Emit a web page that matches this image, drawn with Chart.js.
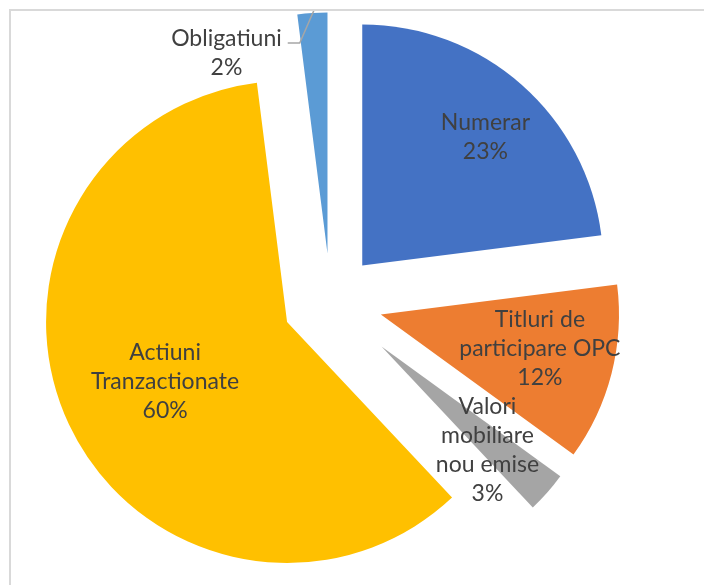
<!DOCTYPE html>
<html>
<head>
<meta charset="utf-8">
<script src="https://cdn.jsdelivr.net/npm/chart.js@4.4.0/dist/chart.umd.min.js"></script>
<style>
  html, body { margin: 0; padding: 0; background: #fff; overflow: hidden; }
  #frame { position: absolute; left: 9px; top: 9px; width: 720px; height: 600px;
           border-left: 2px solid #d9d9d9; border-top: 2px solid #d9d9d9; }
  #wrap { position: absolute; left: 11px; top: 11px; width: 693px; height: 574px; }
</style>
</head>
<body>
<div id="frame"></div>
<div id="wrap"><canvas id="pie-chart"></canvas></div>
<script>
// DATA
const categories = ["Numerar", "Titluri de participare OPC", "Valori mobiliare nou emise", "Actiuni Tranzactionate", "Obligatiuni"];
const values = [23, 12, 3, 60, 2];
// how the category names wrap inside the labels
const labelLines = [["Numerar"], ["Titluri de", "participare OPC"], ["Valori", "mobiliare", "nou emise"], ["Actiuni", "Tranzactionate"], ["Obligatiuni"]];
const sliceColors = ["#4472C4", "#ED7D31", "#A5A5A5", "#FFC000", "#5B9BD5"];

// per slice: how far it is pulled out (px) and how much it is shrunk
const explode = [48, 52, 68, 48, 48];
const shrink = [1, 0.988, 0.917, 1, 1];
// label placement: share of the slice radius from its tip, and turn (deg) off the slice middle
const labelRadial = [0.737, 0.683, 0.672, 0.564, 0.93];
const labelTurn = [2.5, -2.3, 3.1, -1.0, -23.2];
const FONT = "23px Lato";
const LINE_H = 29;

const sliceTip = (arc, i) => {
  const mid = (arc.startAngle + arc.endAngle) / 2;
  return {
    mid: mid,
    x: arc.x + Math.cos(mid) * explode[i],
    y: arc.y + Math.sin(mid) * explode[i],
    r: arc.outerRadius * shrink[i]
  };
};

// pull every slice out along its middle (plain translation, like Excel)
const explodePlugin = {
  id: "explode",
  beforeDatasetDraw(chart, args) {
    const ctx = chart.ctx;
    args.meta.data.forEach((arc, i) => {
      const tip = sliceTip(arc, i);
      ctx.save();
      ctx.translate(tip.x, tip.y);
      ctx.scale(shrink[i], shrink[i]);
      ctx.translate(-arc.x, -arc.y);
      arc.draw(ctx);
      ctx.restore();
    });
    return false;
  }
};

// data labels: name + percent
const labelPlugin = {
  id: "sliceLabels",
  afterDatasetsDraw(chart) {
    const ctx = chart.ctx;
    const meta = chart.getDatasetMeta(0);
    const total = values.reduce((a, b) => a + b, 0);
    ctx.save();
    ctx.font = FONT;
    ctx.fillStyle = "#404040";
    ctx.textAlign = "center";
    ctx.textBaseline = "middle";
    meta.data.forEach((arc, i) => {
      const tip = sliceTip(arc, i);
      const a = tip.mid + labelTurn[i] * Math.PI / 180;
      const d = tip.r * labelRadial[i];
      const cx = tip.x + Math.cos(a) * d;
      const cy = tip.y + Math.sin(a) * d;
      const lines = labelLines[i].concat([Math.round(values[i] / total * 100) + "%"]);
      const top = cy - (lines.length - 1) * LINE_H / 2;
      lines.forEach((t, k) => ctx.fillText(t, cx, top + k * LINE_H));

      // label sits outside its slice -> leader line to the slice edge
      if (labelRadial[i] > 0.9) {
        const sx = cx + ctx.measureText(lines[0]).width / 2 + 6;
        const sy = top + 4;
        const ex = tip.x + Math.cos(tip.mid + 0.01) * (tip.r + 4);
        const ey = tip.y + Math.sin(tip.mid + 0.01) * (tip.r + 4);
        ctx.strokeStyle = "#a6a6a6";
        ctx.lineWidth = 1.5;
        ctx.beginPath();
        ctx.moveTo(sx, sy);
        ctx.lineTo(sx + 12, sy);
        ctx.lineTo(ex, ey);
        ctx.stroke();
      }
    });
    ctx.restore();
  }
};

const drawPie = () => {
  new Chart("pie-chart", {
    type: "pie",
    data: {
      labels: categories,
      datasets: [{
        data: values,
        backgroundColor: sliceColors,
        borderWidth: 0
      }]
    },
    options: {
      responsive: true,
      maintainAspectRatio: false,
      animation: false,
      radius: 241,
      layout: { padding: { left: 0, right: 54, top: 7, bottom: 0 } },
      plugins: {
        legend: { display: false },
        tooltip: { enabled: false }
      }
    },
    plugins: [explodePlugin, labelPlugin]
  });
};

document.fonts.load(FONT).then(drawPie, drawPie);
</script>
</body>
</html>
